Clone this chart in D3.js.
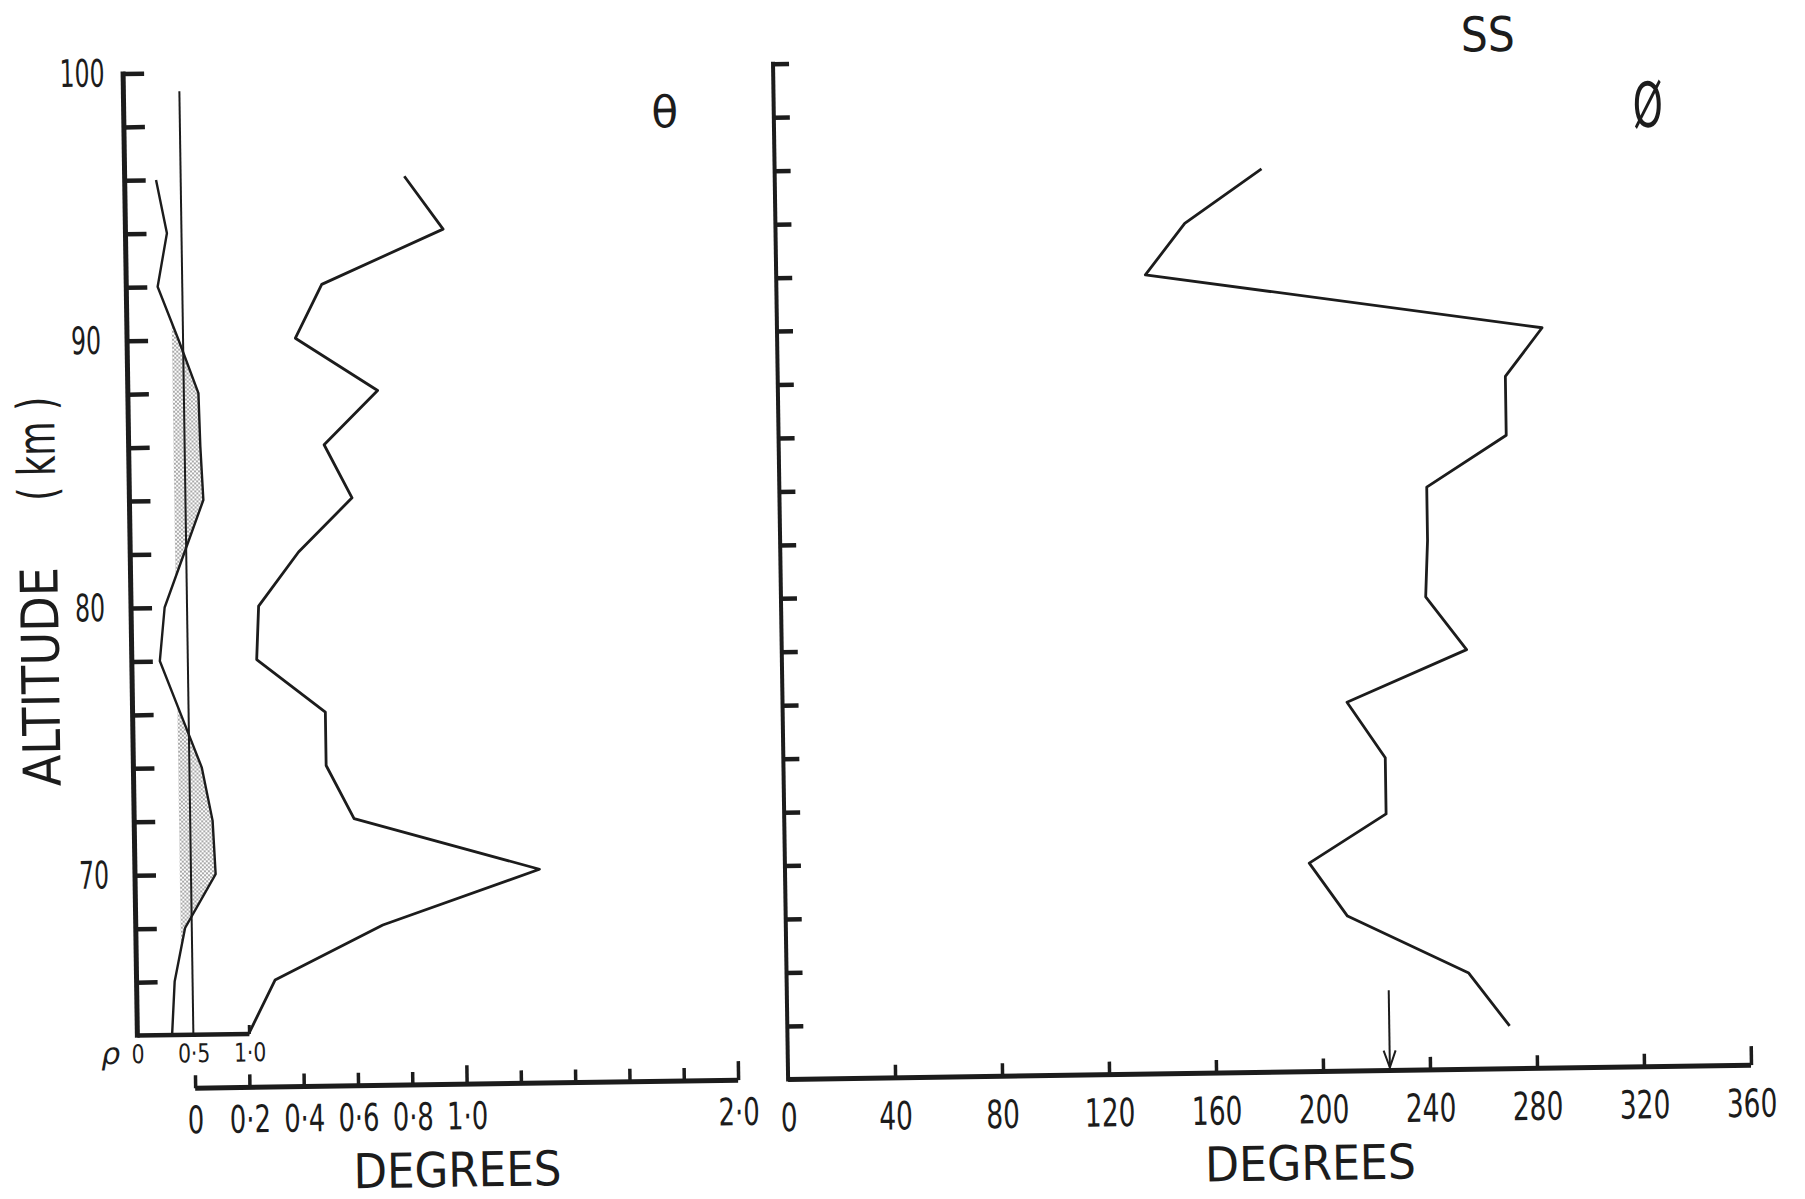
<!DOCTYPE html>
<html>
<head>
<meta charset="utf-8">
<script src="https://cdn.jsdelivr.net/npm/d3@7"></script>
<style>
  body { margin: 0; background: #fff; }
  svg { display: block; }
</style>
</head>
<body>
<div id="chart"></div>
<script>
// altitude profile, every 2 km (left panel)
var altitudes = [96, 94, 92, 90, 88, 86, 84, 82, 80, 78, 76, 74, 72, 70, 68, 66, 64];
// theta (degrees), left panel
var theta = [0.82, 0.96, 0.51, 0.41, 0.71, 0.51, 0.61, 0.41, 0.26, 0.25, 0.50, 0.50, 0.60, 1.28, 0.70, 0.30, 0.20];
// rho, small inset scale 0..1
var rho = [0.28, 0.37, 0.28, 0.46, 0.63, 0.64, 0.66, 0.48, 0.30, 0.25, 0.43, 0.61, 0.70, 0.72, 0.44, 0.34, 0.31];
// phi (degrees), right panel, as plotted
var phiAlt = [95.8, 93.8, 91.9, 89.7, 87.9, 85.7, 83.8, 81.8, 79.7, 77.7, 75.8, 73.7, 71.6, 69.8, 67.8, 65.6, 63.6];
var phi = [182, 153, 138, 286, 272, 272, 242, 242, 241, 256, 211, 225, 225, 196, 210, 255, 270];

var altLabels = [100, 90, 80, 70];
var rhoLabels = [0, 0.5, 1.0];
var thetaTicks = [0, 0.2, 0.4, 0.6, 0.8, 1.0, 1.2, 1.4, 1.6, 1.8, 2.0];
var thetaLabels = [0, 0.2, 0.4, 0.6, 0.8, 1.0, 2.0];
var phiLabels = [0, 40, 80, 120, 160, 200, 240, 280, 320, 360];
var rhoRef = 0.5, rhoRefTop = 99.3, rhoShade = 0.4;
var arrowPhi = 225, arrowTop = 65;

var FONT = "'DejaVu Sans', sans-serif";
var INK = "#1c1c1c";

var width = 1805, height = 1199;

var svg = d3.select("#chart")
  .append("svg")
    .attr("width", width)
    .attr("height", height)
    .style("background", "#fff");

// the scanned figure sits a little tilted
var g = svg.append("g")
    .attr("transform", "rotate(-0.85, 900, 600)");

// dotted screen tone
var pat = svg.append("defs").append("pattern")
    .attr("id", "tone")
    .attr("width", 4).attr("height", 4)
    .attr("patternUnits", "userSpaceOnUse");
pat.append("circle").attr("cx", 1).attr("cy", 1).attr("r", 0.9).attr("fill", "#808080");
pat.append("circle").attr("cx", 3).attr("cy", 3).attr("r", 0.9).attr("fill", "#808080");

// scales
var y = d3.scaleLinear().domain([62, 100]).range([1077.7, 62]);
var xRho = d3.scaleLinear().domain([0, 1]).range([131, 243]);
var xTheta = d3.scaleLinear().domain([0, 2]).range([188, 731]);
var xPhi = d3.scaleLinear().domain([0, 360]).range([781, 1744]);

var fmt = function(d) { return d === 0 ? "0" : d.toFixed(1).replace(".", "\u00b7"); };

// the lettering is narrow, squeeze the glyphs horizontally
function styleAxis(sel, size, w, squeeze) {
  sel.select(".domain").remove();
  sel.selectAll(".tick line").attr("stroke", INK).attr("stroke-width", w);
  sel.selectAll(".tick text").attr("fill", INK)
    .attr("transform", squeeze ? "scale(" + squeeze + ",1)" : null);
  sel.attr("font-family", FONT).attr("font-size", size);
}

function label(x, y0, txt, size, len) {
  var t = g.append("text")
    .attr("x", x).attr("y", y0)
    .attr("text-anchor", "middle")
    .attr("font-family", FONT).attr("font-size", size)
    .attr("fill", INK)
    .text(txt);
  if (len) t.attr("textLength", len).attr("lengthAdjust", "spacingAndGlyphs");
  return t;
}

// ---------- left panel ----------
// altitude axis line
g.append("line")
  .attr("x1", xRho(0)).attr("x2", xRho(0))
  .attr("y1", y(100) - 2).attr("y2", y(64) + 2)
  .attr("stroke", INK).attr("stroke-width", 5);

g.append("g")
  .attr("transform", "translate(" + xRho(0) + ",0)")
  .call(d3.axisRight(y).tickValues(d3.range(66, 101, 2)).tickSize(21).tickFormat(""))
  .call(styleAxis, 10, 4.5);

g.append("g")
  .attr("transform", "translate(" + (xRho(0) - 41) + ",0)")
  .call(d3.axisLeft(y).tickValues(altLabels).tickSize(0).tickPadding(0).tickFormat(d3.format("d")))
  .call(styleAxis, 38, 0, 0.62)
  .call(function(a) { a.selectAll(".tick text").attr("text-anchor", "middle"); });

// rho axis
g.append("line")
  .attr("x1", xRho(0)).attr("x2", xRho(1))
  .attr("y1", y(64)).attr("y2", y(64))
  .attr("stroke", INK).attr("stroke-width", 4.5);
g.append("line")
  .attr("x1", xRho(1)).attr("x2", xRho(1))
  .attr("y1", y(64)).attr("y2", y(64) - 9)
  .attr("stroke", INK).attr("stroke-width", 3);

g.append("g")
  .attr("transform", "translate(0," + y(64) + ")")
  .call(d3.axisBottom(xRho).tickValues(rhoLabels).tickSize(0).tickPadding(9).tickFormat(fmt))
  .call(styleAxis, 26, 0, 0.78);

g.append("text")
  .attr("x", xRho(0) - 27).attr("y", y(64) + 28)
  .attr("text-anchor", "middle")
  .attr("font-family", FONT).attr("font-size", 30).attr("font-style", "italic")
  .attr("fill", INK)
  .text("\u03c1");

// shaded part of rho above the threshold
var pts = altitudes.map(function(a, i) { return [rho[i], a]; });
var polys = [], cur = null;
for (var i = 0; i < pts.length; i++) {
  var p = pts[i], inside = p[0] >= rhoShade;
  if (i > 0) {
    var q = pts[i - 1], qin = q[0] >= rhoShade;
    if (inside !== qin) {
      var t = (rhoShade - q[0]) / (p[0] - q[0]);
      var c = [rhoShade, q[1] + t * (p[1] - q[1])];
      if (qin) { cur.push(c); polys.push(cur); cur = null; }
      else { cur = [c]; }
    }
  }
  if (inside) { if (!cur) cur = []; cur.push(p); }
}
if (cur) polys.push(cur);

var polyLine = d3.line().x(function(d) { return xRho(d[0]); }).y(function(d) { return y(d[1]); });
g.append("g")
  .selectAll("path")
  .data(polys)
  .enter()
  .append("path")
    .attr("d", function(d) { return polyLine(d) + "Z"; })
    .attr("fill", "url(#tone)")
    .attr("stroke", "none");

// rho reference line
g.append("line")
  .attr("x1", xRho(rhoRef)).attr("x2", xRho(rhoRef))
  .attr("y1", y(rhoRefTop)).attr("y2", y(64))
  .attr("stroke", INK).attr("stroke-width", 2);

// rho profile
g.append("path")
  .datum(altitudes)
  .attr("fill", "none")
  .attr("stroke", INK)
  .attr("stroke-width", 2.4)
  .attr("stroke-linejoin", "round")
  .attr("d", d3.line()
    .x(function(d, i) { return xRho(rho[i]); })
    .y(function(d) { return y(d); }));

// theta profile
g.append("path")
  .datum(altitudes)
  .attr("fill", "none")
  .attr("stroke", INK)
  .attr("stroke-width", 2.8)
  .attr("stroke-linejoin", "round")
  .attr("d", d3.line()
    .x(function(d, i) { return xTheta(theta[i]); })
    .y(function(d) { return y(d); }));

// theta degrees axis
g.append("line")
  .attr("x1", xTheta(0)).attr("x2", xTheta(2))
  .attr("y1", y(62)).attr("y2", y(62))
  .attr("stroke", INK).attr("stroke-width", 5);

g.append("g")
  .attr("transform", "translate(0," + y(62) + ")")
  .call(d3.axisTop(xTheta).tickValues(thetaTicks).tickSize(13).tickFormat(""))
  .call(styleAxis, 10, 3.5)
  .call(function(a) {
    a.selectAll(".tick line").attr("y2", function(d) { return (Math.abs(d - 1) < 1e-6 || Math.abs(d - 2) < 1e-6) ? -19 : -13; });
  });

g.append("g")
  .attr("transform", "translate(0," + y(62) + ")")
  .call(d3.axisBottom(xTheta).tickValues(thetaLabels).tickSize(0).tickPadding(18).tickFormat(fmt))
  .call(styleAxis, 38, 0, 0.68);

label(449, 1180, "DEGREES", 48, 208);
label(672, 124, "\u03b8", 44);

// altitude title, rotated
g.append("text")
  .attr("transform", "translate(58,664) rotate(-90)")
  .attr("text-anchor", "middle")
  .attr("font-family", FONT).attr("font-size", 52)
  .attr("textLength", 219).attr("lengthAdjust", "spacingAndGlyphs")
  .attr("fill", INK)
  .text("ALTITUDE");
g.append("text")
  .attr("transform", "translate(57,436) rotate(-90)")
  .attr("text-anchor", "middle")
  .attr("font-family", FONT).attr("font-size", 52)
  .attr("textLength", 104).attr("lengthAdjust", "spacingAndGlyphs")
  .attr("fill", INK)
  .text("( km )");

// ---------- right panel ----------
g.append("line")
  .attr("x1", xPhi(0)).attr("x2", xPhi(0))
  .attr("y1", y(100) - 2).attr("y2", y(62) + 2)
  .attr("stroke", INK).attr("stroke-width", 4);

g.append("g")
  .attr("transform", "translate(" + xPhi(0) + ",0)")
  .call(d3.axisRight(y).tickValues(d3.range(64, 101, 2)).tickSize(16).tickFormat(""))
  .call(styleAxis, 10, 4.5);

g.append("line")
  .attr("x1", xPhi(0)).attr("x2", xPhi(360))
  .attr("y1", y(62)).attr("y2", y(62))
  .attr("stroke", INK).attr("stroke-width", 5);

g.append("g")
  .attr("transform", "translate(0," + y(62) + ")")
  .call(d3.axisTop(xPhi).tickValues(phiLabels.slice(1)).tickSize(13).tickFormat(""))
  .call(styleAxis, 10, 3.5)
  .call(function(a) {
    a.selectAll(".tick line").attr("y2", function(d) { return d === 360 ? -19 : -13; });
  });

g.append("g")
  .attr("transform", "translate(0," + y(62) + ")")
  .call(d3.axisBottom(xPhi).tickValues(phiLabels).tickSize(0).tickPadding(24).tickFormat(d3.format("d")))
  .call(styleAxis, 39, 0, 0.68);

label(1302, 1186, "DEGREES", 48, 211);

// phi profile
g.append("path")
  .datum(phiAlt)
  .attr("fill", "none")
  .attr("stroke", INK)
  .attr("stroke-width", 2.8)
  .attr("stroke-linejoin", "round")
  .attr("d", d3.line()
    .x(function(d, i) { return xPhi(phi[i]); })
    .y(function(d) { return y(d); }));

// arrow
g.append("line")
  .attr("x1", xPhi(arrowPhi)).attr("x2", xPhi(arrowPhi))
  .attr("y1", y(arrowTop)).attr("y2", y(62) - 3)
  .attr("stroke", INK).attr("stroke-width", 2);
g.append("path")
  .attr("d", "M" + (xPhi(arrowPhi) - 6) + "," + (y(62) - 20) + "L" + xPhi(arrowPhi) + "," + (y(62) - 3) + "L" + (xPhi(arrowPhi) + 6) + "," + (y(62) - 20))
  .attr("fill", "none")
  .attr("stroke", INK).attr("stroke-width", 2);

label(1496, 60, "SS", 48, 54);

g.append("text")
  .attr("transform", "translate(1655,138) scale(0.62,1)")
  .attr("text-anchor", "middle")
  .attr("font-family", FONT).attr("font-size", 62)
  .attr("fill", INK)
  .text("\u00d8");
</script>
</body>
</html>
